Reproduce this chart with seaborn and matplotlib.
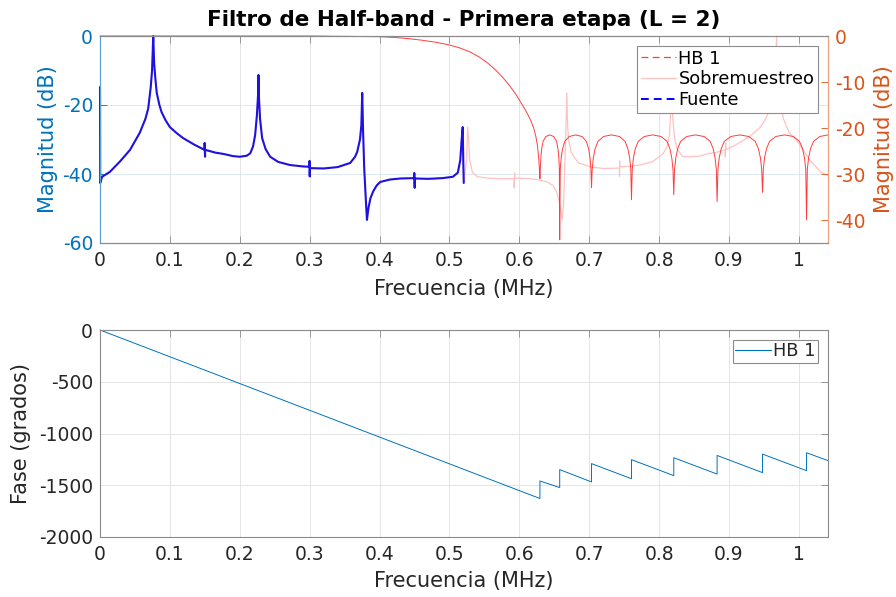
import matplotlib
matplotlib.use("Agg")
import matplotlib.pyplot as plt
import seaborn as sns
from matplotlib.lines import Line2D

# ---------------- data ----------------
# Source spectrum "Fuente" (left axis, dB)
src_f = [0.0, 0.0003, 0.003, 0.014, 0.028, 0.043, 0.057, 0.065, 0.069, 0.0725, 0.0745,
         0.0762, 0.0775, 0.0795, 0.0812, 0.085, 0.088, 0.094, 0.1, 0.11, 0.119, 0.135,
         0.1495, 0.1497, 0.1503, 0.1505, 0.165, 0.177, 0.19, 0.2, 0.21, 0.215, 0.219,
         0.222, 0.2245, 0.2262, 0.2268, 0.2275, 0.229, 0.232, 0.237, 0.2435, 0.255,
         0.272, 0.29, 0.2997, 0.2999, 0.3001, 0.3003, 0.32, 0.34, 0.358, 0.365, 0.368,
         0.372, 0.374, 0.3752, 0.3765, 0.378, 0.3805, 0.382, 0.384, 0.387, 0.391, 0.396,
         0.401, 0.415, 0.43, 0.4495, 0.4497, 0.4503, 0.4505, 0.47, 0.49, 0.505, 0.512,
         0.5155, 0.5175, 0.519, 0.5198, 0.5205]
src_db = [-14.8, -42.6, -40.8, -39.4, -36.5, -33.0, -28.0, -24.0, -21.0, -15.0, -10.0,
          0.0, -8.0, -13.0, -16.5, -20.0, -22.0, -24.5, -26.4, -28.2, -29.6, -31.5,
          -33.0, -31.0, -35.0, -33.0, -33.8, -34.2, -34.8, -35.0, -34.7, -34.0, -32.0,
          -28.7, -23.0, -17.0, -11.3, -18.0, -24.0, -29.6, -32.8, -35.0, -36.5,
          -37.4, -37.8, -37.9, -36.2, -40.7, -38.3, -38.4, -38.0, -36.8, -35.0, -33.6,
          -30.0, -25.8, -16.5, -28.0, -38.0, -48.0, -53.3, -50.0, -47.0, -45.0, -43.3,
          -42.3, -41.6, -41.3, -41.2, -39.7, -44.0, -41.3, -41.4, -41.2, -40.8, -39.6,
          -36.0, -30.0, -26.4, -36.0, -42.6]

# Oversampled spectrum "Sobremuestreo", upper half (left axis, dB)
up_f = [0.5205, 0.5245, 0.526, 0.5275, 0.529, 0.533, 0.54, 0.555, 0.575, 0.5925, 0.5927,
        0.5933, 0.5935, 0.61, 0.625, 0.64, 0.648, 0.653, 0.656, 0.659, 0.6615, 0.6635,
        0.665, 0.6665, 0.668, 0.669, 0.6705, 0.674, 0.678, 0.685, 0.703, 0.72, 0.7432,
        0.7434, 0.7436, 0.7438, 0.755, 0.772, 0.79, 0.80, 0.806, 0.8115, 0.8148, 0.8163,
        0.817, 0.8175, 0.8182, 0.8197, 0.8222, 0.8257, 0.834, 0.845, 0.858, 0.868, 0.88,
        0.8945, 0.8947, 0.8953, 0.8955, 0.91, 0.926, 0.935, 0.945, 0.951, 0.956, 0.9598,
        0.9635, 0.9652, 0.9672, 0.968, 0.9695, 0.9715, 0.975, 0.978, 0.986, 0.996, 1.016,
        1.031, 1.0417]
up_db = [-42.6, -36.0, -26.4, -30.0, -36.0, -39.6, -40.8, -41.2, -41.4, -41.3, -44.0,
         -39.7, -41.2, -41.3, -41.6, -42.3, -43.3, -45.0, -47.0, -50.0, -53.3, -48.0,
         -38.0, -28.0, -16.5, -25.8, -30.0, -33.6, -35.0, -36.8, -38.0, -38.4, -38.3,
         -40.7, -36.2, -37.9, -37.8, -37.4, -36.5, -35.0, -34.0, -32.0, -28.7, -23.0,
         -17.0, -11.3, -18.0, -24.0, -29.6, -32.8, -35.0, -35.0, -34.8, -34.2, -33.8,
         -33.0, -35.0, -31.0, -33.0, -31.5, -29.6, -28.2, -26.4, -24.5, -22.5, -20.0,
         -16.5, -13.0, -8.0, 0.0, -10.0, -15.0, -21.0, -24.0, -28.0, -30.0, -36.0,
         -39.4, -40.5]

# Half-band filter "HB 1" magnitude (right axis, dB)
hb_f = [0.0, 0.30, 0.40, 0.42, 0.44, 0.46, 0.48, 0.50, 0.515, 0.53, 0.543, 0.555, 0.566,
        0.575, 0.583, 0.59, 0.596, 0.602, 0.608, 0.613, 0.617, 0.6205, 0.6235, 0.626,
        0.628,
        0.6295, 0.6300, 0.6308, 0.6320, 0.6340, 0.6380, 0.6437, 0.6493, 0.6533, 0.6553,
        0.6566, 0.6573,
        0.6578, 0.6586, 0.6599, 0.6619, 0.6651, 0.6715, 0.6806, 0.6897, 0.6960, 0.6992,
        0.7012, 0.7025,
        0.7033, 0.7043, 0.7059, 0.7085, 0.7125, 0.7205, 0.7319, 0.7433, 0.7513, 0.7553,
        0.7579, 0.7595,
        0.7605, 0.7616, 0.7633, 0.7660, 0.7702, 0.7787, 0.7908, 0.8029, 0.8113, 0.8155,
        0.8182, 0.8199,
        0.8210, 0.8221, 0.8239, 0.8266, 0.8309, 0.8396, 0.8520, 0.8644, 0.8731, 0.8774,
        0.8801, 0.8819,
        0.8830, 0.8842, 0.8860, 0.8889, 0.8934, 0.9025, 0.9155, 0.9285, 0.9376, 0.9421,
        0.9450, 0.9468,
        0.9480, 0.9491, 0.9509, 0.9537, 0.9581, 0.9669, 0.9795, 0.9921, 1.0009, 1.0053,
        1.0081, 1.0099,
        1.0110, 1.0121, 1.0139, 1.0167, 1.0211, 1.0299, 1.0417]
hb_db = [0.0, 0.0, -0.15, -0.3, -0.55, -0.9, -1.35, -1.95, -2.6, -3.5, -4.6, -5.9, -7.4,
         -8.8, -10.2, -11.6, -12.9, -14.4, -15.9, -17.3, -18.6, -20.0, -21.7, -23.8,
         -27.0,
         -31.0, -29.0, -26.5, -24.5, -22.9, -21.85, -21.5, -21.85, -22.9, -24.5, -26.5, -29.0,
         -44.3, -29.0, -26.5, -24.5, -22.9, -21.85, -21.5, -21.85, -22.9, -24.5, -26.5, -29.0,
         -33.0, -29.0, -26.5, -24.5, -22.9, -21.85, -21.5, -21.85, -22.9, -24.5, -26.5, -29.0,
         -35.6, -29.0, -26.5, -24.5, -22.9, -21.85, -21.5, -21.85, -22.9, -24.5, -26.5, -29.0,
         -34.5, -29.0, -26.5, -24.5, -22.9, -21.85, -21.5, -21.85, -22.9, -24.5, -26.5, -29.0,
         -36.0, -29.0, -26.5, -24.5, -22.9, -21.85, -21.5, -21.85, -22.9, -24.5, -26.5, -29.0,
         -34.0, -29.0, -26.5, -24.5, -22.9, -21.85, -21.5, -21.85, -22.9, -24.5, -26.5, -29.0,
         -40.0, -29.0, -26.5, -24.5, -22.9, -21.85, -21.5]

# Half-band filter "HB 1" phase (degrees)
ph_f = [0.0, 0.6295, 0.6295, 0.6578, 0.6578, 0.7033, 0.7033, 0.7605, 0.7605, 0.8210,
        0.8210, 0.8830, 0.8830, 0.9480, 0.9480, 1.0110, 1.0110, 1.0417]
ph_deg = [0, -1628, -1459, -1522, -1349, -1468, -1291, -1437, -1253, -1407, -1234,
          -1392, -1212, -1378, -1199, -1359, -1186, -1262]

x_ticks = [0, 0.1, 0.2, 0.3, 0.4, 0.5, 0.6, 0.7, 0.8, 0.9, 1.0]
x_tick_labels = ["0", "0.1", "0.2", "0.3", "0.4", "0.5", "0.6", "0.7", "0.8", "0.9", "1"]
left_ticks = [-60, -40, -20, 0]
right_ticks = [-40, -30, -20, -10, 0]
phase_ticks = [-2000, -1500, -1000, -500, 0]

# ---------------- style ----------------
sns.set_theme(style="white")
plt.rcParams["font.family"] = ["DejaVu Sans"]
plt.rcParams["axes.unicode_minus"] = False

MBLUE = "#0072BD"
MORANGE = "#D95319"
RED = "#ff3d3d"
PINK = "#ffc2c2"
SRC = "#1f12e0"
DARK = "#262626"
SPINE = "#8a8a8a"
TICK_FS = 13.5
LABEL_FS = 15
LEG_FS = 12.8

fig = plt.figure(figsize=(8.96, 5.97), dpi=100)
ax1 = fig.add_axes([100 / 896, 1 - 243 / 597, 728 / 896, 207 / 597])
ax2 = ax1.twinx()
ax3 = fig.add_axes([100 / 896, 1 - 537 / 597, 728 / 896, 207 / 597])

common = dict(estimator=None, sort=False, legend=False, clip_on=False)
sns.lineplot(x=src_f + up_f, y=src_db + up_db, ax=ax1, color=PINK, linewidth=0.9, **common)
sns.lineplot(x=src_f, y=src_db, ax=ax1, color=SRC, linewidth=1.5, **common)
sns.lineplot(x=hb_f, y=hb_db, ax=ax2, color=RED, linewidth=0.7, **common)
sns.lineplot(x=ph_f, y=ph_deg, ax=ax3, color=MBLUE, linewidth=0.7, **common)

xmax = 1.0417
# top axes
ax1.set_xlim(0, xmax)
ax1.set_ylim(-60, 0)
ax2.set_ylim(-45, 0)
ax1.set_xticks(x_ticks)
ax1.set_xticklabels(x_tick_labels)
ax1.set_yticks(left_ticks)
ax1.set_yticklabels([str(v) for v in left_ticks])
ax2.set_yticks(right_ticks)
ax2.set_yticklabels([str(v) for v in right_ticks])
ax1.set_axisbelow(True)
ax1.grid(axis="x", color="#e4e4e4", linewidth=0.7)
ax1.grid(axis="y", color="#dceaf6", linewidth=0.7)
ax2.grid(False)

ax1.tick_params(axis="x", direction="in", length=5, width=0.6, top=True, bottom=True,
                colors=SPINE, labelcolor=DARK, labelsize=TICK_FS, pad=6)
ax1.tick_params(axis="y", direction="in", length=5, width=0.6, left=True, right=False,
                colors=MBLUE, labelcolor=MBLUE, labelsize=TICK_FS, pad=5)
ax2.tick_params(axis="y", direction="in", length=5, width=0.6, right=True, left=False,
                colors=MORANGE, labelcolor=MORANGE, labelsize=TICK_FS, pad=5)
for ax in (ax1, ax2):
    ax.spines["top"].set_color(SPINE)
    ax.spines["bottom"].set_color(SPINE)
    ax.spines["top"].set_linewidth(0.8)
    ax.spines["bottom"].set_linewidth(0.8)
ax1.spines["left"].set_color("#5aa3d6")
ax1.spines["left"].set_linewidth(0.9)
ax1.spines["right"].set_visible(False)
ax2.spines["left"].set_visible(False)
ax2.spines["right"].set_color("#eba07f")
ax2.spines["right"].set_linewidth(0.9)

ax1.set_xlabel("Frecuencia (MHz)", fontsize=LABEL_FS, color=DARK, labelpad=6)
ax1.set_ylabel("Magnitud (dB)", fontsize=LABEL_FS, color=MBLUE, labelpad=3)
ax2.set_ylabel("Magnitud (dB)", fontsize=LABEL_FS, color=MORANGE, labelpad=6)
ax1.set_title("Filtro de Half-band - Primera etapa (L = 2)", fontsize=15.5,
              fontweight="bold", color="black", pad=7)

handles = [Line2D([], [], color=RED, linestyle=(0, (5.5, 3.5)), linewidth=0.9),
           Line2D([], [], color=PINK, linewidth=0.9),
           Line2D([], [], color="#0000ff", linestyle=(0, (4, 2.6)), linewidth=1.4)]
leg = ax2.legend(handles, ["HB 1", "Sobremuestreo", "Fuente"], loc="upper right",
                 fontsize=LEG_FS, frameon=True, fancybox=False, edgecolor="#8c8c8c",
                 framealpha=1, borderaxespad=0.55, handlelength=2.0, handletextpad=0.12,
                 labelspacing=0.15, borderpad=0.22)
leg.get_frame().set_linewidth(0.8)
for t in leg.get_texts():
    t.set_color("black")

# bottom axes
ax3.set_xlim(0, xmax)
ax3.set_ylim(-2000, 0)
ax3.set_xticks(x_ticks)
ax3.set_xticklabels(x_tick_labels)
ax3.set_yticks(phase_ticks)
ax3.set_yticklabels([str(v) for v in phase_ticks])
ax3.set_axisbelow(True)
ax3.grid(True, color="#e4e4e4", linewidth=0.7)
ax3.tick_params(axis="both", direction="in", length=5, width=0.6, top=True, right=True,
                colors=SPINE, labelcolor=DARK, labelsize=TICK_FS)
ax3.tick_params(axis="x", pad=6)
ax3.tick_params(axis="y", pad=5)
for s in ax3.spines.values():
    s.set_color(SPINE)
    s.set_linewidth(0.8)
ax3.set_xlabel("Frecuencia (MHz)", fontsize=LABEL_FS, color=DARK, labelpad=5)
ax3.set_ylabel("Fase (grados)", fontsize=LABEL_FS, color=DARK, labelpad=6)
leg3 = ax3.legend([Line2D([], [], color=MBLUE, linewidth=0.8)], ["HB 1"], loc="upper right",
                  fontsize=LEG_FS, frameon=True, fancybox=False, edgecolor="#8c8c8c",
                  framealpha=1, borderaxespad=0.55, handlelength=2.0, handletextpad=0.12,
                  borderpad=0.15)
leg3.get_frame().set_linewidth(0.8)

fig.savefig("out.png", dpi=100)
